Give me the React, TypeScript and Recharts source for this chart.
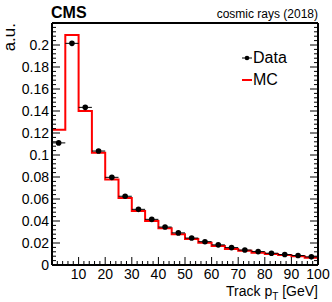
import React from 'react';
import { ComposedChart, Line, Scatter, ErrorBar, XAxis, YAxis, Legend, Label } from 'recharts';

// histogram binning (5 GeV bins)
const binEdges = [0, 5, 10, 15, 20, 25, 30, 35, 40, 45, 50, 55, 60, 65, 70, 75, 80, 85, 90, 95, 100];
const binCenters = [2.5, 7.5, 12.5, 17.5, 22.5, 27.5, 32.5, 37.5, 42.5, 47.5, 52.5, 57.5, 62.5, 67.5, 72.5, 77.5, 82.5, 87.5, 92.5, 97.5];
const binHalfWidth = 2.5;

const mcValues = [0.123, 0.209, 0.14, 0.102, 0.0778, 0.061, 0.049, 0.04, 0.0333, 0.028, 0.0237, 0.0202, 0.0172, 0.0145, 0.013, 0.0112, 0.01, 0.009, 0.0079, 0.0067];
const dataValues = [0.111, 0.2015, 0.1433, 0.1036, 0.0797, 0.0625, 0.0506, 0.0415, 0.0345, 0.0292, 0.0245, 0.0212, 0.0183, 0.0158, 0.0136, 0.0122, 0.0107, 0.0095, 0.0086, 0.0074];

const xLabelTicks = [10, 20, 30, 40, 50, 60, 70, 80, 90, 100];
const yLabelTicks = [0, 0.02, 0.04, 0.06, 0.08, 0.1, 0.12, 0.14, 0.16, 0.18, 0.2];
const xAllTicks = Array.from({ length: 51 }, (_, i) => i * 2);
const yAllTicks = Array.from({ length: 56 }, (_, i) => (i * 4) / 1000);

const legendOrder = ['Data', 'MC'];

const FONT = '"Liberation Sans", Arial, Helvetica, sans-serif';
const MAJOR = 8;
const MINOR = 4;

const mcSteps = binEdges.map((x, i) => ({ pt: x, y: mcValues[Math.min(i, mcValues.length - 1)] }));
const dataPts = binCenters.map((x, i) => ({ pt: x, y: dataValues[i], xerr: binHalfWidth }));

const isYLabel = (v: number) => yLabelTicks.some((t) => Math.abs(t - v) < 1e-9);
const isYMajor = (v: number) => Math.round(v * 1000) % 20 === 0;

const bottomTick = (props: any) => {
  const { x, y, payload } = props;
  const v = payload.value;
  const major = v % 10 === 0;
  return (
    <g>
      <line x1={x} x2={x} y1={y} y2={y - (major ? MAJOR : MINOR)} stroke="#000" strokeWidth={1} />
      {xLabelTicks.includes(v) && (
        <text x={x} y={y + 14} textAnchor="middle" fontSize={14} fontFamily={FONT} fill="#000">
          {v}
        </text>
      )}
    </g>
  );
};

const topTick = (props: any) => {
  const { x, y, payload } = props;
  const major = payload.value % 10 === 0;
  return <line x1={x} x2={x} y1={y} y2={y + (major ? MAJOR : MINOR)} stroke="#000" strokeWidth={1} />;
};

const leftTick = (props: any) => {
  const { x, y, payload } = props;
  const v = payload.value;
  const major = isYMajor(v);
  return (
    <g>
      <line x1={x} x2={x + (major ? MAJOR : MINOR)} y1={y} y2={y} stroke="#000" strokeWidth={1} />
      {isYLabel(v) && (
        <text x={x - 3} y={y + 5} textAnchor="end" fontSize={14} fontFamily={FONT} fill="#000">
          {String(parseFloat(v.toFixed(2)))}
        </text>
      )}
    </g>
  );
};

const rightTick = (props: any) => {
  const { x, y, payload } = props;
  const major = isYMajor(payload.value);
  return <line x1={x} x2={x - (major ? MAJOR : MINOR)} y1={y} y2={y} stroke="#000" strokeWidth={1} />;
};

const XTitle = (props: any) => {
  const { x, y, width } = props.viewBox;
  return (
    <text x={x + width} y={y + 31} textAnchor="end" fontSize={14} fontFamily={FONT} fill="#000">
      Track p
      <tspan dy={4} fontSize={10}>T</tspan>
      <tspan dy={-4}>{'\u00a0[GeV]'}</tspan>
    </text>
  );
};

const YTitle = (props: any) => {
  const { y } = props.viewBox;
  return (
    <text x={15} y={y} transform={`rotate(-90 15 ${y})`} textAnchor="end" fontSize={17} fontFamily={FONT} fill="#000">
      a.u.
    </text>
  );
};

const Header = (props: any) => {
  const { x, y, width } = props.viewBox;
  return (
    <g fontFamily={FONT} fill="#000">
      <text x={x - 1} y={y - 5} fontSize={16} fontWeight="bold">
        CMS
      </text>
      <text x={x + width} y={y - 5} fontSize={12} textAnchor="end">
        cosmic rays (2018)
      </text>
    </g>
  );
};

const LegendBox = (props: any) => {
  const items = [...(props.payload ?? [])].sort(
    (a: any, b: any) => legendOrder.indexOf(a.value) - legendOrder.indexOf(b.value)
  );
  return (
    <div style={{ fontFamily: FONT }}>
      {items.map((item: any) => (
        <div key={item.value} style={{ display: 'flex', alignItems: 'center', height: 22 }}>
          <svg width={13} height={22}>
            {item.type === 'line' ? (
              <line x1={2} x2={12} y1={11} y2={11} stroke={item.color} strokeWidth={2} />
            ) : (
              <g>
                <line x1={2} x2={12} y1={11} y2={11} stroke="#000" strokeWidth={1} />
                <circle cx={7} cy={11} r={2.3} fill="#000" />
              </g>
            )}
          </svg>
          <span style={{ fontSize: 16, lineHeight: '22px', color: '#000' }}>{item.value}</span>
        </div>
      ))}
    </div>
  );
};

const dot = (props: any) => <circle cx={props.cx} cy={props.cy} r={2.8} fill="#000" />;

export default function App() {
  return (
    <div style={{ position: 'absolute', left: 0, top: 0, width: 332, height: 302, background: '#fff', fontFamily: FONT }}>
      <ComposedChart width={332} height={302} margin={{ top: 23, right: 14, bottom: 0, left: 0 }}>
        <XAxis
          xAxisId="top"
          orientation="top"
          mirror
          height={1}
          type="number"
          domain={[0, 100]}
          allowDataOverflow
          ticks={xAllTicks}
          interval={0}
          tickSize={0}
          tickMargin={0}
          tickLine={false}
          tick={topTick}
          axisLine={{ stroke: '#000', strokeWidth: 2 }}
        >
          <Label content={Header} />
        </XAxis>
        <XAxis
          xAxisId="main"
          dataKey="pt"
          type="number"
          domain={[0, 100]}
          allowDataOverflow
          height={37}
          ticks={xAllTicks}
          interval={0}
          tickSize={0}
          tickMargin={0}
          tickLine={false}
          tick={bottomTick}
          axisLine={{ stroke: '#000', strokeWidth: 2 }}
        >
          <Label content={XTitle} />
        </XAxis>
        <YAxis
          yAxisId="main"
          dataKey="y"
          type="number"
          domain={[0, 0.22]}
          allowDataOverflow
          width={52}
          ticks={yAllTicks}
          interval={0}
          tickSize={0}
          tickMargin={0}
          tickLine={false}
          tick={leftTick}
          axisLine={{ stroke: '#000', strokeWidth: 2 }}
        >
          <Label content={YTitle} />
        </YAxis>
        <YAxis
          yAxisId="right"
          orientation="right"
          mirror
          width={1}
          type="number"
          domain={[0, 0.22]}
          allowDataOverflow
          ticks={yAllTicks}
          interval={0}
          tickSize={0}
          tickMargin={0}
          tickLine={false}
          tick={rightTick}
          axisLine={{ stroke: '#000', strokeWidth: 2 }}
        />
        <Line
          xAxisId="main"
          yAxisId="main"
          data={mcSteps}
          dataKey="y"
          name="MC"
          type="stepAfter"
          stroke="#ff0000"
          strokeWidth={2}
          dot={false}
          activeDot={false}
          isAnimationActive={false}
        />
        <Scatter
          xAxisId="main"
          yAxisId="main"
          data={dataPts}
          dataKey="y"
          name="Data"
          fill="#000"
          shape={dot}
          isAnimationActive={false}
        >
          <ErrorBar dataKey="xerr" direction="x" width={0} stroke="#000" strokeWidth={1} />
        </Scatter>
        <Legend
          layout="horizontal"
          verticalAlign="middle"
          align="center"
          content={LegendBox}
          wrapperStyle={{ position: 'absolute', left: 240, top: 47, width: 80 }}
        />
      </ComposedChart>
    </div>
  );
}
